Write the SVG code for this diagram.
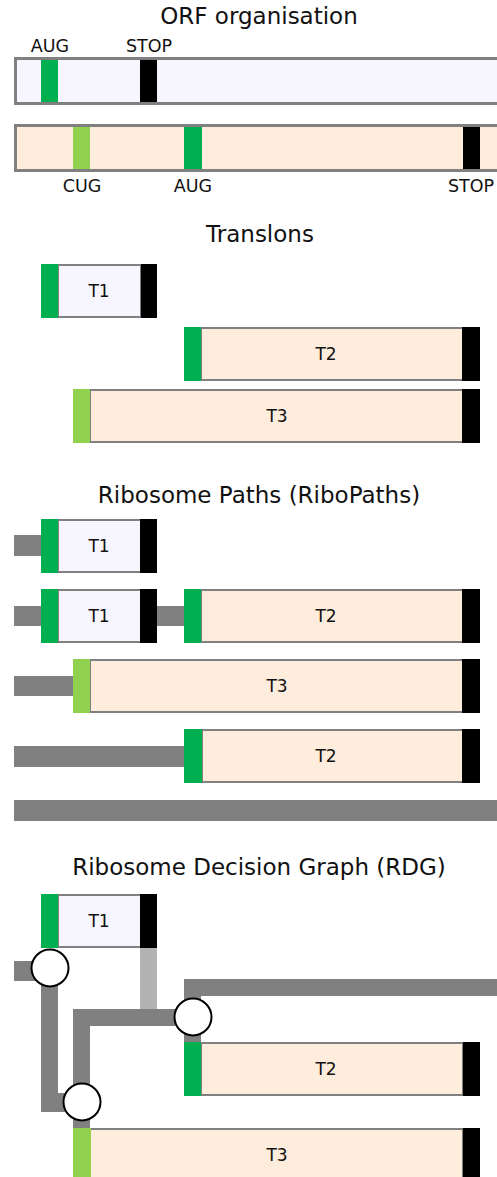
<svg xmlns="http://www.w3.org/2000/svg" width="497" height="1177" viewBox="0 0 497 1177">
  <style>
    text { font-family: "DejaVu Sans", Verdana, sans-serif; fill: #111; }
    .title { font-size: 23px; text-anchor: middle; }
    .codon { font-size: 17.5px; text-anchor: middle; }
    .lbl { font-size: 17px; text-anchor: middle; }
    .bar1 { fill: #F7F6FE; stroke: #808080; stroke-width: 3; }
    .bar2 { fill: #FEEDDC; stroke: #808080; stroke-width: 3; }
    .body1 { fill: #F7F6FE; stroke: #808080; stroke-width: 2; }
    .body2 { fill: #FEEDDC; stroke: #808080; stroke-width: 2; }
    .aug { fill: #00B050; }
    .cug { fill: #92D050; }
    .stop { fill: #000; }
    .path { fill: #808080; }
    .path-lt { fill: #B3B3B3; }
    .node { fill: #fff; stroke: #000; stroke-width: 2; }
  </style>

  <!-- ORF organisation -->
  <text class="title" x="259" y="24">ORF organisation</text>
  <g id="orf1">
    <rect class="bar1" x="15.5" y="58.5" width="500" height="45"/>
    <rect class="aug" x="41" y="60" width="17" height="42"/>
    <rect class="stop" x="140" y="60" width="17" height="42"/>
    <text class="codon" x="50" y="52">AUG</text>
    <text class="codon" x="149" y="52">STOP</text>
  </g>
  <g id="orf2">
    <rect class="bar2" x="15.5" y="125.5" width="500" height="45"/>
    <rect class="cug" x="73" y="127" width="17" height="42"/>
    <rect class="aug" x="184" y="127" width="18" height="42"/>
    <rect class="stop" x="463" y="127" width="17" height="42"/>
    <text class="codon" x="82" y="192">CUG</text>
    <text class="codon" x="193" y="192">AUG</text>
    <text class="codon" x="471" y="192">STOP</text>
  </g>

  <!-- Translons -->
  <text class="title" x="260" y="242">Translons</text>
  <g id="tr-t1">
    <rect class="body1" x="58" y="265" width="83" height="52"/>
    <rect class="aug" x="41" y="264" width="17" height="54"/>
    <rect class="stop" x="141" y="264" width="16" height="54"/>
    <text class="lbl" x="99" y="297">T1</text>
  </g>
  <g id="tr-t2">
    <rect class="body2" x="201" y="328" width="262" height="52"/>
    <rect class="aug" x="184" y="327" width="17" height="54"/>
    <rect class="stop" x="462" y="327" width="18" height="54"/>
    <text class="lbl" x="326" y="360">T2</text>
  </g>
  <g id="tr-t3">
    <rect class="body2" x="90" y="390" width="373" height="52"/>
    <rect class="cug" x="73" y="389" width="17" height="54"/>
    <rect class="stop" x="462" y="389" width="18" height="54"/>
    <text class="lbl" x="277" y="422">T3</text>
  </g>

  <!-- Ribosome Paths -->
  <text class="title" x="259" y="503">Ribosome Paths (RiboPaths)</text>
  <g id="rp-connectors">
    <rect class="path" x="14" y="535" width="28" height="21"/>
    <rect class="path" x="14" y="606" width="28" height="20"/>
    <rect class="path" x="156" y="606" width="29" height="20"/>
    <rect class="path" x="14" y="676" width="60" height="20"/>
    <rect class="path" x="14" y="746" width="171" height="21"/>
    <rect class="path" x="14" y="800" width="483" height="21"/>
  </g>
  <g id="rp1-t1">
    <rect class="body1" x="58" y="520" width="83" height="52"/>
    <rect class="aug" x="41" y="519" width="17" height="54"/>
    <rect class="stop" x="140" y="519" width="17" height="54"/>
    <text class="lbl" x="99" y="552">T1</text>
  </g>
  <g id="rp2-t1">
    <rect class="body1" x="58" y="590" width="83" height="52"/>
    <rect class="aug" x="41" y="589" width="17" height="54"/>
    <rect class="stop" x="140" y="589" width="17" height="54"/>
    <text class="lbl" x="99" y="622">T1</text>
  </g>
  <g id="rp2-t2">
    <rect class="body2" x="201" y="590" width="262" height="52"/>
    <rect class="aug" x="184" y="589" width="17" height="54"/>
    <rect class="stop" x="462" y="589" width="18" height="54"/>
    <text class="lbl" x="326" y="622">T2</text>
  </g>
  <g id="rp3-t3">
    <rect class="body2" x="90" y="660" width="373" height="52"/>
    <rect class="cug" x="73" y="659" width="17" height="54"/>
    <rect class="stop" x="462" y="659" width="18" height="54"/>
    <text class="lbl" x="277" y="692">T3</text>
  </g>
  <g id="rp4-t2">
    <rect class="body2" x="202" y="730" width="261" height="52"/>
    <rect class="aug" x="184" y="729" width="18" height="54"/>
    <rect class="stop" x="462" y="729" width="18" height="54"/>
    <text class="lbl" x="326" y="762">T2</text>
  </g>

  <!-- Ribosome Decision Graph -->
  <text class="title" x="259" y="875">Ribosome Decision Graph (RDG)</text>
  <g id="rdg-connectors">
    <rect class="path" x="14" y="961" width="36" height="20"/>
    <rect class="path" x="41" y="968" width="17" height="144"/>
    <rect class="path" x="41" y="1093" width="41" height="19"/>
    <rect class="path-lt" x="140" y="948" width="17" height="62"/>
    <rect class="path" x="73" y="1009" width="120" height="17"/>
    <rect class="path" x="73" y="1009" width="17" height="119"/>
    <rect class="path" x="184" y="979" width="17" height="63"/>
    <rect class="path" x="184" y="979" width="313" height="17"/>
  </g>
  <g id="rdg-t1">
    <rect class="body1" x="58" y="895" width="83" height="52"/>
    <rect class="aug" x="41" y="894" width="17" height="54"/>
    <rect class="stop" x="140" y="894" width="17" height="54"/>
    <text class="lbl" x="99" y="927">T1</text>
  </g>
  <g id="rdg-t2">
    <rect class="body2" x="201" y="1043" width="262" height="52"/>
    <rect class="aug" x="184" y="1042" width="17" height="54"/>
    <rect class="stop" x="463" y="1042" width="17" height="54"/>
    <text class="lbl" x="326" y="1075">T2</text>
  </g>
  <g id="rdg-t3">
    <rect class="body2" x="90" y="1129" width="373" height="60"/>
    <rect class="cug" x="73" y="1128" width="18" height="60"/>
    <rect class="stop" x="463" y="1128" width="17" height="60"/>
    <text class="lbl" x="277" y="1161">T3</text>
  </g>
  <g id="rdg-n1"><circle class="node" cx="50" cy="968" r="18.5"/></g>
  <g id="rdg-n2"><circle class="node" cx="82" cy="1102" r="18.5"/></g>
  <g id="rdg-n3"><circle class="node" cx="193" cy="1017" r="18.5"/></g>
</svg>
